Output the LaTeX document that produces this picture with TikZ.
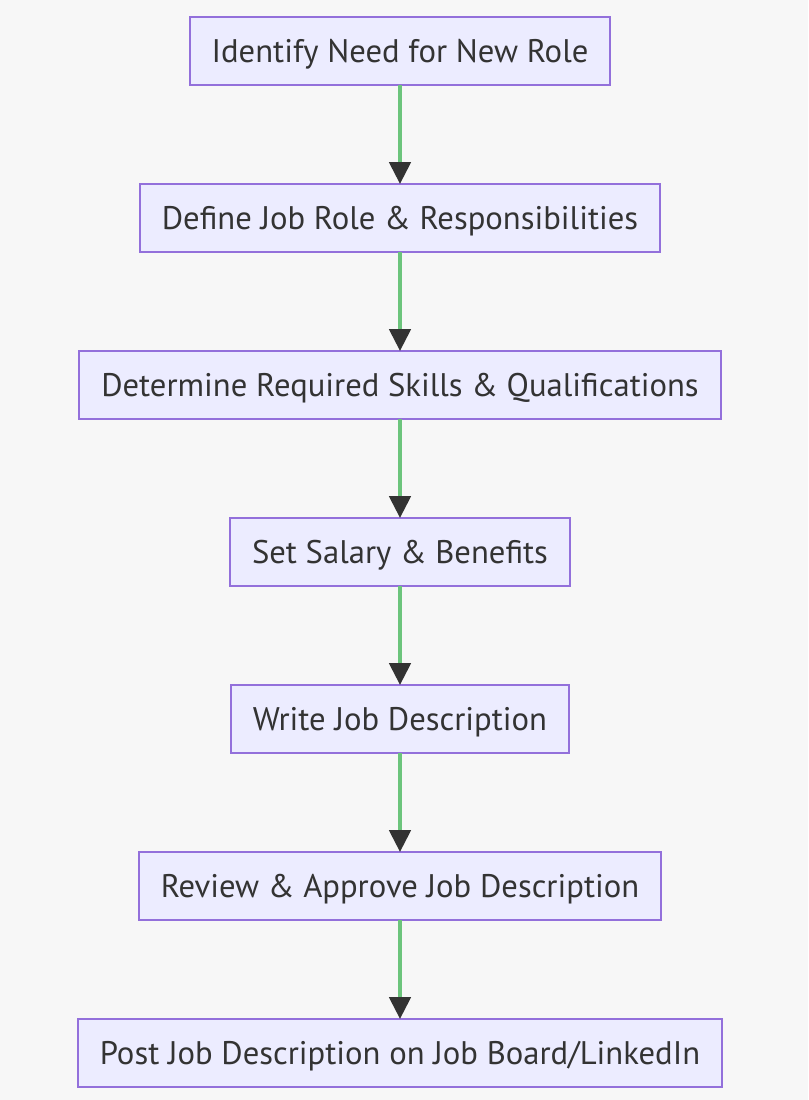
\documentclass[tikz,border=0pt]{standalone}
\usepackage{fontspec}
\setmainfont{PT Sans}
\usetikzlibrary{positioning, arrows.meta}
\definecolor{my_bg}{RGB}{247, 247, 247}
\definecolor{my_fill}{RGB}{236, 236, 255}
\definecolor{my_border}{RGB}{147, 112, 219}
\definecolor{my_green}{RGB}{108, 196, 124}
\definecolor{my_dark}{RGB}{51, 51, 51}
\tikzset {
  stepbox/.style = {draw=my_border, line width=1.5pt, fill=my_fill, rectangle, text=my_dark,
    minimum height=51pt, inner xsep=16.5pt, outer sep=0pt, text height=20pt, text depth=3pt,
    font=\fontsize{24.5pt}{29pt}\selectfont},
  line/.style = {draw=my_green, line width=3pt, -{Triangle[length=16.5pt, width=16pt, color=my_dark]}},
}

\begin{document}
\begin{tikzpicture}[node distance=74.25pt]

    \useasboundingbox[fill=my_bg] (0pt,0pt) rectangle (606pt,-825pt);

    \node[stepbox] (need) at (300pt,-38.25pt) {Identify Need for New Role};
    \node[stepbox, below=of need] (define) {Define Job Role \& Responsibilities};
    \node[stepbox, below=of define] (skills) {Determine Required Skills \& Qualifications};
    \node[stepbox, below=of skills] (salary) {Set Salary \& Benefits};
    \node[stepbox, below=of salary] (write) {Write Job Description};
    \node[stepbox, below=of write] (review) {Review \& Approve Job Description};
    \node[stepbox, below=of review] (post) {Post Job Description on Job Board/LinkedIn};

    \draw[line] (need) -- (define);
    \draw[line] (define) -- (skills);
    \draw[line] (skills) -- (salary);
    \draw[line] (salary) -- (write);
    \draw[line] (write) -- (review);
    \draw[line] (review) -- (post);

\end{tikzpicture}
\end{document}
